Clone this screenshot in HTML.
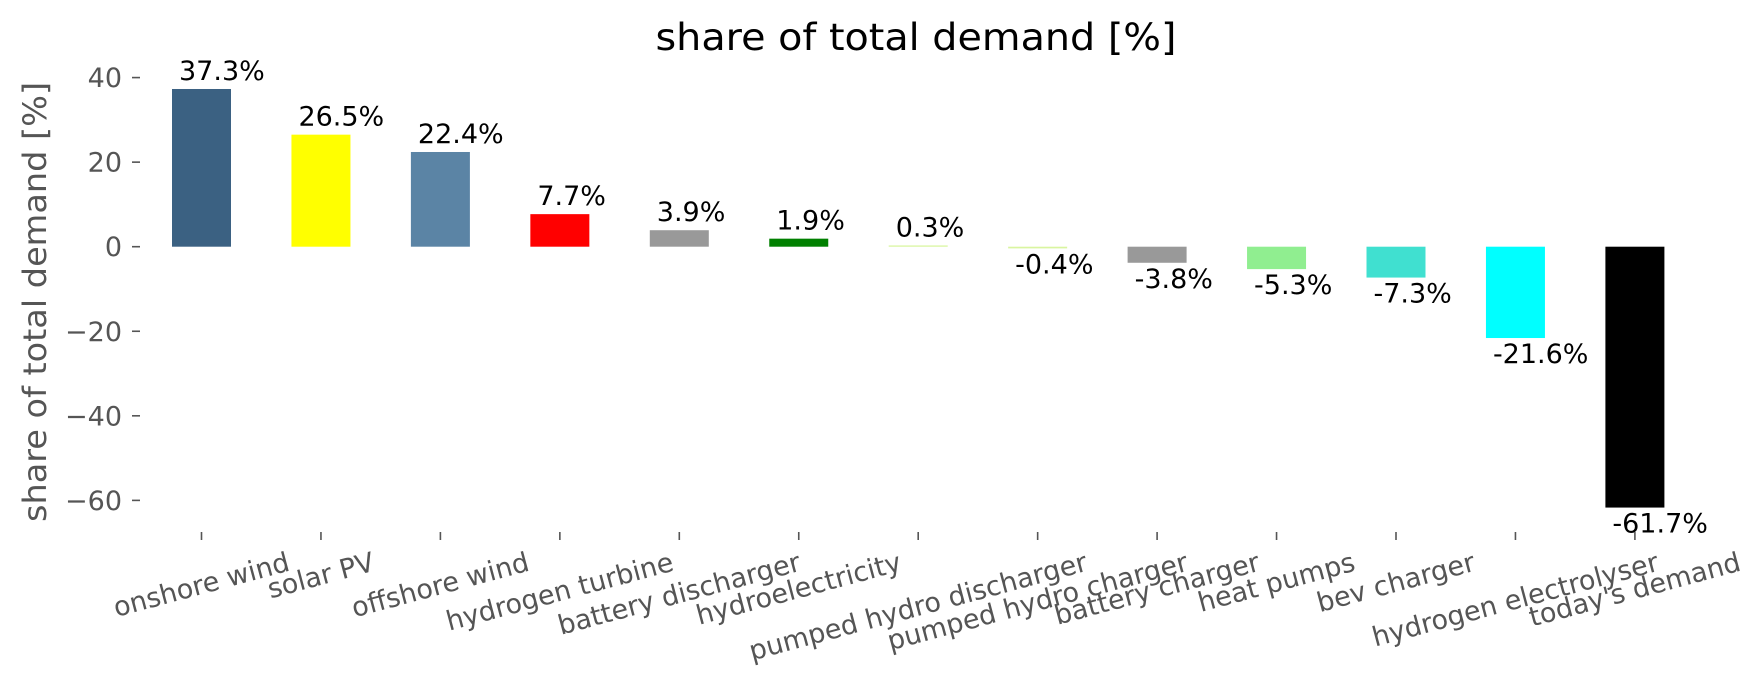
<!DOCTYPE html>
<html><head><meta charset="utf-8"><style>
html,body{margin:0;padding:0;background:#fff;}
svg{display:block;font-family:"DejaVu Sans","Liberation Sans",sans-serif;}
</style></head><body>
<svg id="s" width="1764" height="689" viewBox="0 0 1764 689" xmlns="http://www.w3.org/2000/svg">
<text x="916" y="50" font-size="37" text-anchor="middle" fill="#000" textLength="521" lengthAdjust="spacingAndGlyphs">share of total demand [%]</text>
<text transform="translate(46,302) rotate(-90)" font-size="32" text-anchor="middle" fill="#555" textLength="440" lengthAdjust="spacingAndGlyphs">share of total demand [%]</text>
<g id="yt" font-size="27" fill="#555" text-anchor="end"></g>
</svg>
<script>
(function(){
var NS="http://www.w3.org/2000/svg";
var s=document.getElementById('s');
function el(t,a,txt,p){var e=document.createElementNS(NS,t);for(var k in a)e.setAttribute(k,a[k]);if(txt!=null)e.textContent=txt;(p||s).appendChild(e);return e;}
var z=246.7,k=4.228;
var yt=document.getElementById('yt');
[40,20,0,-20,-40,-60].forEach(function(v){var y=z-v*k;
 el('text',{x:122,y:y+9.5},(v<0?'\u2212':'')+Math.abs(v),yt);
 el('line',{x1:132,x2:140,y1:y,y2:y,stroke:'#555','stroke-width':1.6});});
var names=["onshore wind","solar PV","offshore wind","hydrogen turbine","battery discharger","hydroelectricity","pumped hydro discharger","pumped hydro charger","battery charger","heat pumps","bev charger","hydrogen electrolyser","today's demand"];
var vals=[37.3,26.5,22.4,7.7,3.9,1.9,0.3,-0.4,-3.8,-5.3,-7.3,-21.6,-61.7];
var cols=["#3b6182","#ffff00","#5b84a5","#ff0000","#999999","#008000","#d9f5a0","#d9f5a0","#999999","#90ee90","#40e0d0","#00ffff","#000000"];
var fs=27,sn=Math.sin(15*Math.PI/180),cs=Math.cos(15*Math.PI/180);
for(var i=0;i<13;i++){
 var cx=201.5+i*119.45,v=vals[i],left=cx-29.5,h=Math.abs(v)*k;
 var ty=v>=0?z-h:z;
 el('rect',{x:left,y:ty,width:59,height:Math.max(h,1.3),fill:cols[i]});
 var lab=v.toFixed(1)+'%';
 if(v>=0) el('text',{x:left+7,y:ty-9,'font-size':27,fill:'#000'},lab);
 else el('text',{x:left+7,y:z+h+25,'font-size':27,fill:'#000'},lab);
 el('line',{x1:cx,x2:cx,y1:532,y2:540,stroke:'#555','stroke-width':1.6});
 var t=el('text',{x:cx,y:0,'font-size':fs,fill:'#555','text-anchor':'middle','dominant-baseline':'central'},names[i]);
 var L=t.getComputedTextLength();
 var cy=549+(L*sn+fs*cs)/2;
 t.setAttribute('y',cy);
 t.setAttribute('transform','rotate(-15 '+cx+' '+cy+')');
}
})();
</script>
</body></html>
